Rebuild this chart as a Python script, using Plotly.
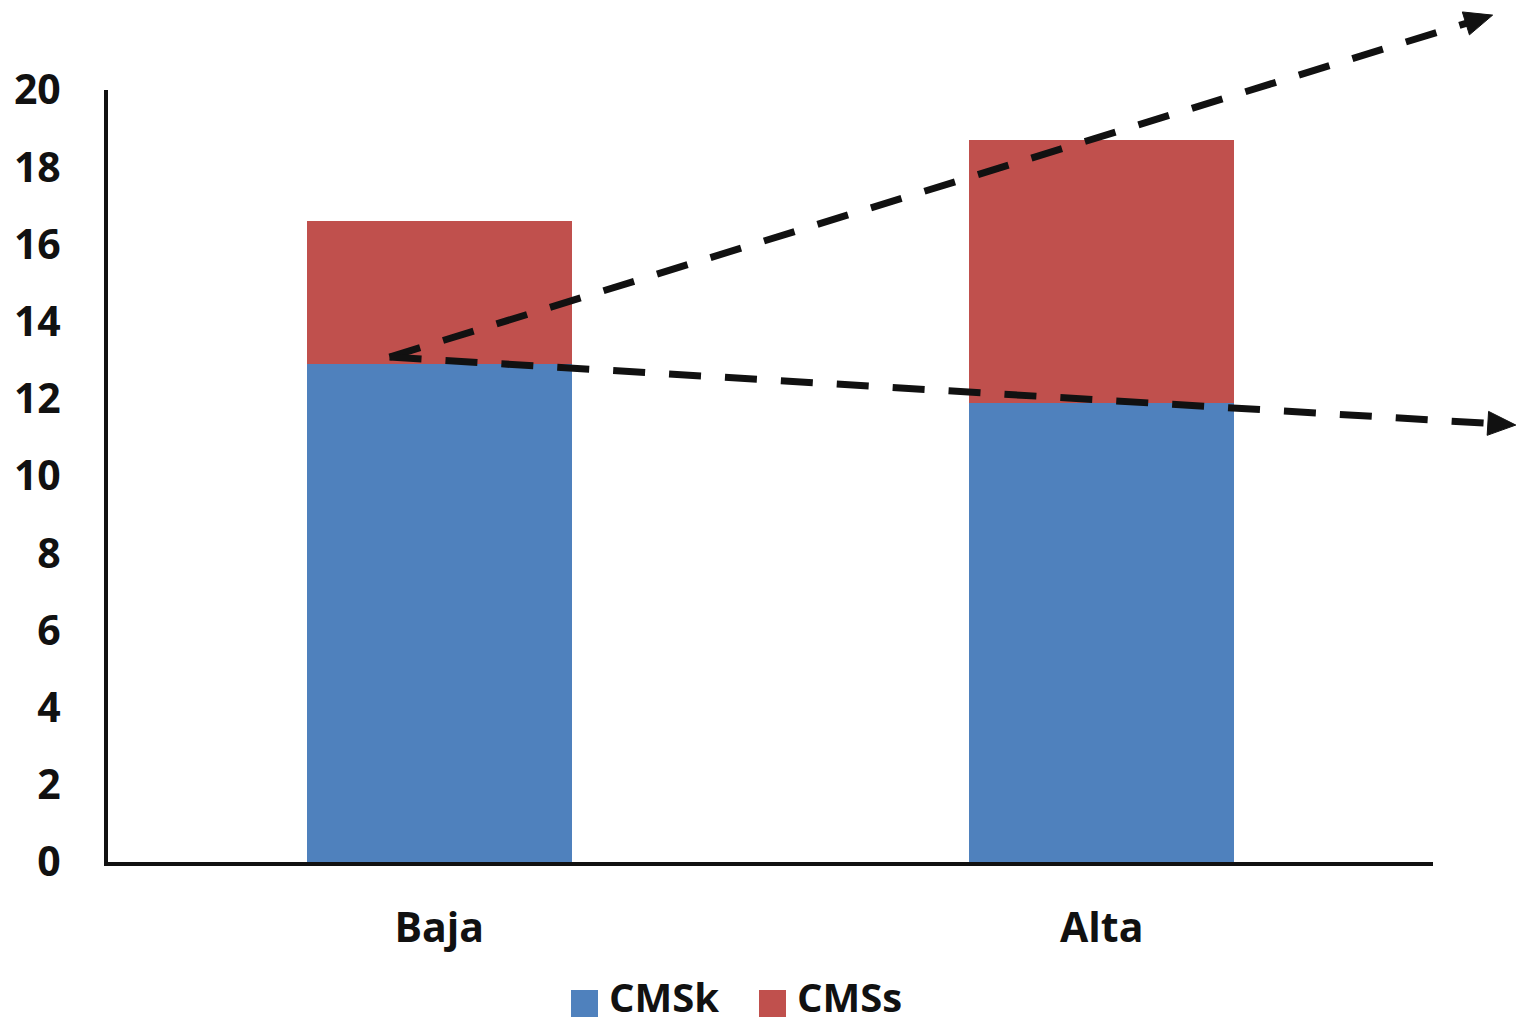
import plotly.graph_objects as go

# ---- data ----
categories = ["Baja", "Alta"]
series_names = ["CMSk", "CMSs"]
cmsk_values = [12.9, 11.9]
cmss_values = [3.7, 6.8]          # stacked on top of CMSk
series_colors = ["#4F81BD", "#C0504D"]

y_ticks = list(range(0, 21, 2))

# trend arrows, in (category index, value) units
trend_start = (-0.075, 13.08)
trend_ends = [(1.59, 21.94), (1.625, 11.32)]

# ---- figure geometry ----
W, H = 1517, 1025
M_L, M_R, M_T, M_B = 108, 84, 90, 163
PW, PH = W - M_L - M_R, H - M_T - M_B
X_RANGE = (-0.5, len(categories) - 0.5)
Y_RANGE = (0, 20)

FONT = "Open Sans"
BLACK = "#111111"


def to_px(xc, yv):
    px = M_L + (xc - X_RANGE[0]) / (X_RANGE[1] - X_RANGE[0]) * PW
    py = M_T + PH - (yv - Y_RANGE[0]) / (Y_RANGE[1] - Y_RANGE[0]) * PH
    return px, py


def px_to_paper(px, py):
    return (px - M_L) / PW, (M_T + PH - py) / PH


fig = go.Figure()
for name, vals, col in zip(series_names, [cmsk_values, cmss_values], series_colors):
    fig.add_trace(go.Bar(
        x=list(range(len(categories))), y=vals, name=name,
        marker=dict(color=col, line=dict(width=0)),
        width=0.4, showlegend=False,
    ))

shapes = []
annotations = []

# dashed trend lines with filled arrowheads
HEAD_LEN, HEAD_HALF = 28, 12
sx, sy = to_px(*trend_start)
for end in trend_ends:
    ex, ey = to_px(*end)
    dx, dy = ex - sx, ey - sy
    L = (dx ** 2 + dy ** 2) ** 0.5
    ux, uy = dx / L, dy / L
    bx, by = ex - ux * HEAD_LEN, ey - uy * HEAD_LEN
    p0 = px_to_paper(sx, sy)
    p1 = px_to_paper(bx + ux * 2, by + uy * 2)
    shapes.append(dict(
        type="line", xref="paper", yref="paper",
        x0=p0[0], y0=p0[1], x1=p1[0], y1=p1[1],
        line=dict(color=BLACK, width=7, dash="32px,24px"),
    ))
    nx, ny = -uy, ux
    pts = [(ex, ey), (bx + nx * HEAD_HALF, by + ny * HEAD_HALF),
           (bx - nx * HEAD_HALF, by - ny * HEAD_HALF)]
    pp = [px_to_paper(*p) for p in pts]
    path = "M {} {} L {} {} L {} {} Z".format(*[c for p in pp for c in p])
    shapes.append(dict(type="path", xref="paper", yref="paper", path=path,
                       fillcolor=BLACK, line=dict(color=BLACK, width=1)))

# legend: colour squares with bold labels
legend_x = [571, 759]
SQ = 27
SQ_TOP = 990
for name, col, lx in zip(series_names, series_colors, legend_x):
    a = px_to_paper(lx, SQ_TOP)
    b = px_to_paper(lx + SQ, SQ_TOP + SQ)
    shapes.append(dict(type="rect", xref="paper", yref="paper",
                       x0=a[0], y0=b[1], x1=b[0], y1=a[1],
                       fillcolor=col, line=dict(width=0)))
    t = px_to_paper(lx + SQ + 10, 1025)
    annotations.append(dict(
        xref="paper", yref="paper", x=t[0], y=t[1], xanchor="left", yanchor="bottom",
        text=name, showarrow=False, borderpad=0,
        font=dict(family=FONT, size=40, color=BLACK, weight="bold"),
    ))

fig.update_layout(
    width=W, height=H,
    margin=dict(l=M_L, r=M_R, t=M_T, b=M_B, pad=0),
    barmode="stack",
    plot_bgcolor="white", paper_bgcolor="white",
    shapes=shapes, annotations=annotations,
    showlegend=False,
    xaxis=dict(
        range=list(X_RANGE), tickmode="array",
        tickvals=list(range(len(categories))), ticktext=categories,
        showgrid=False, zeroline=False, showline=True,
        linecolor=BLACK, linewidth=4, ticks="",
        ticklabelstandoff=27,
        tickfont=dict(family=FONT, size=41, color=BLACK, weight="bold"),
    ),
    yaxis=dict(
        range=list(Y_RANGE), tickmode="array", tickvals=y_ticks,
        showgrid=False, zeroline=False, showline=True,
        linecolor=BLACK, linewidth=4, ticks="",
        ticklabelstandoff=35,
        tickfont=dict(family=FONT, size=41, color=BLACK, weight="bold"),
    ),
)

fig.write_html("out.html")
